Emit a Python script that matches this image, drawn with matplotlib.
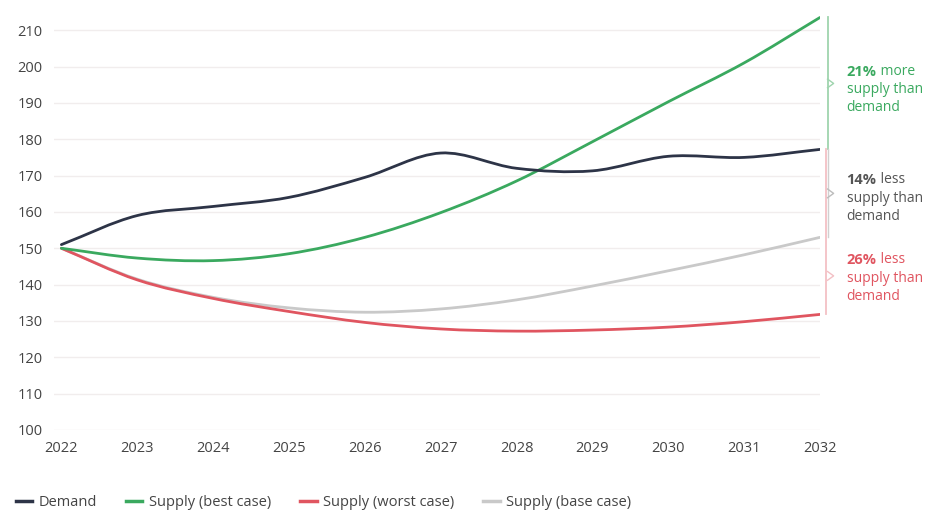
import matplotlib.pyplot as plt
from matplotlib.path import Path
from matplotlib.patches import PathPatch
from matplotlib.lines import Line2D
import numpy as np

years = [2022, 2023, 2024, 2025, 2026, 2027, 2028, 2029, 2030, 2031, 2032]
demand = [151, 159, 161.5, 164, 169.5, 176.2, 172, 171.3, 175.3, 175, 177.2]
supply_best = [150, 147.3, 146.6, 148.5, 153, 159.8, 168.5, 179.3, 190.3, 201, 213.5]
supply_worst = [150, 141.3, 136.2, 132.6, 129.6, 127.8, 127.2, 127.5, 128.3, 129.8, 131.8]
supply_base = [150, 141.5, 136.5, 133.6, 132.4, 133.3, 135.8, 139.6, 143.8, 148.2, 153]

note_pct = ['21%', '14%', '26%']
note_word = ['more', 'less', 'less']

plt.rcParams['font.family'] = ['Open Sans', 'DejaVu Sans']

c_dem = '#2d3447'
c_best = '#3aa95f'
c_worst = '#e05560'
c_base = '#c9c9c9'


def smooth_path(xs, ys):
    # catmull-rom -> bezier, drawn as a path in data coords
    xs = np.asarray(xs, float)
    ys = np.asarray(ys, float)
    n = len(xs)
    verts = [(xs[0], ys[0])]
    codes = [Path.MOVETO]
    for i in range(n - 1):
        i0 = max(i - 1, 0)
        i3 = min(i + 2, n - 1)
        t1 = ((xs[i + 1] - xs[i0]) / 2, (ys[i + 1] - ys[i0]) / 2)
        t2 = ((xs[i3] - xs[i]) / 2, (ys[i3] - ys[i]) / 2)
        if i == 0:
            t1 = (xs[1] - xs[0], ys[1] - ys[0])
        if i == n - 2:
            t2 = (xs[-1] - xs[-2], ys[-1] - ys[-2])
        verts += [(xs[i] + t1[0] / 3, ys[i] + t1[1] / 3),
                  (xs[i + 1] - t2[0] / 3, ys[i + 1] - t2[1] / 3),
                  (xs[i + 1], ys[i + 1])]
        codes += [Path.CURVE4] * 3
    return Path(verts, codes)


fig = plt.figure(figsize=(9.44, 5.16), dpi=100)
ax = fig.add_axes([0.057, 0.1667, 0.8116, 0.81])

series = [(supply_base, c_base),
          (supply_worst, c_worst),
          (supply_best, c_best),
          (demand, c_dem)]
for vals, col in series:
    ax.add_patch(PathPatch(smooth_path(years, vals), facecolor='none',
                           edgecolor=col, lw=2, capstyle='round', zorder=3))

ax.set_xlim(2021.9, 2032)
ax.set_ylim(100, 215)
ax.set_yticks(range(100, 211, 10))
ax.set_xticks(years)
ax.grid(axis='y', color='#f1eded', lw=1)
ax.set_axisbelow(True)
for s in ax.spines.values():
    s.set_visible(False)
ax.tick_params(length=0, labelsize=10.5, colors='#444444')
ax.tick_params(axis='y', pad=8)
ax.tick_params(axis='x', pad=8)

# brackets on the right
bx = 2032.1
ax.plot([bx, bx], [demand[-1], supply_best[-1]], color='#9fd4ae', lw=1.3, clip_on=False)
ax.plot([bx - 0.02, bx - 0.02], [supply_worst[-1], demand[-1]], color='#f3c0c5', lw=1.3, clip_on=False)
ax.plot([bx + 0.01, bx + 0.01], [supply_base[-1], demand[-1]], color='#d0d0d0', lw=1.0, clip_on=False)


def chevron(y, col):
    ax.plot([bx, bx + 0.08, bx], [y + 1.2, y, y - 1.2], color=col, lw=1.0, clip_on=False)


chevron((demand[-1] + supply_best[-1]) / 2, '#9fd4ae')
chevron((demand[-1] + supply_base[-1]) / 2, '#bdbdbd')
chevron((supply_base[-1] + supply_worst[-1]) / 2, '#f3c0c5')

tx = 2032.35
note_col = [c_best, '#555555', c_worst]
note_y = [198.6, 168.8, 146.8]
for pct, word, col, y0 in zip(note_pct, note_word, note_col, note_y):
    t = ax.annotate(pct, (tx, y0), color=col, fontsize=10.5, fontweight='bold',
                    va='center', ha='left', annotation_clip=False)
    ax.annotate(' ' + word, xy=(1, 0.5), xycoords=t, color=col, fontsize=10,
                va='center', ha='left', annotation_clip=False)
    ax.text(tx, y0 - 5.0, 'supply than', color=col, fontsize=10, va='center', ha='left', clip_on=False)
    ax.text(tx, y0 - 10.0, 'demand', color=col, fontsize=10, va='center', ha='left', clip_on=False)

handles = [Line2D([], [], color=c, lw=2.5) for c in [c_dem, c_best, c_worst, c_base]]
labels = ['Demand', 'Supply (best case)', 'Supply (worst case)', 'Supply (base case)']
leg = fig.legend(handles, labels, loc='lower left', bbox_to_anchor=(0.008, -0.006), ncol=4,
                 frameon=False, fontsize=10.5, handlelength=1.1, handletextpad=0.45,
                 columnspacing=2.0, borderaxespad=0.2)
for t in leg.get_texts():
    t.set_color('#444444')

fig.savefig('out.png', dpi=100)
